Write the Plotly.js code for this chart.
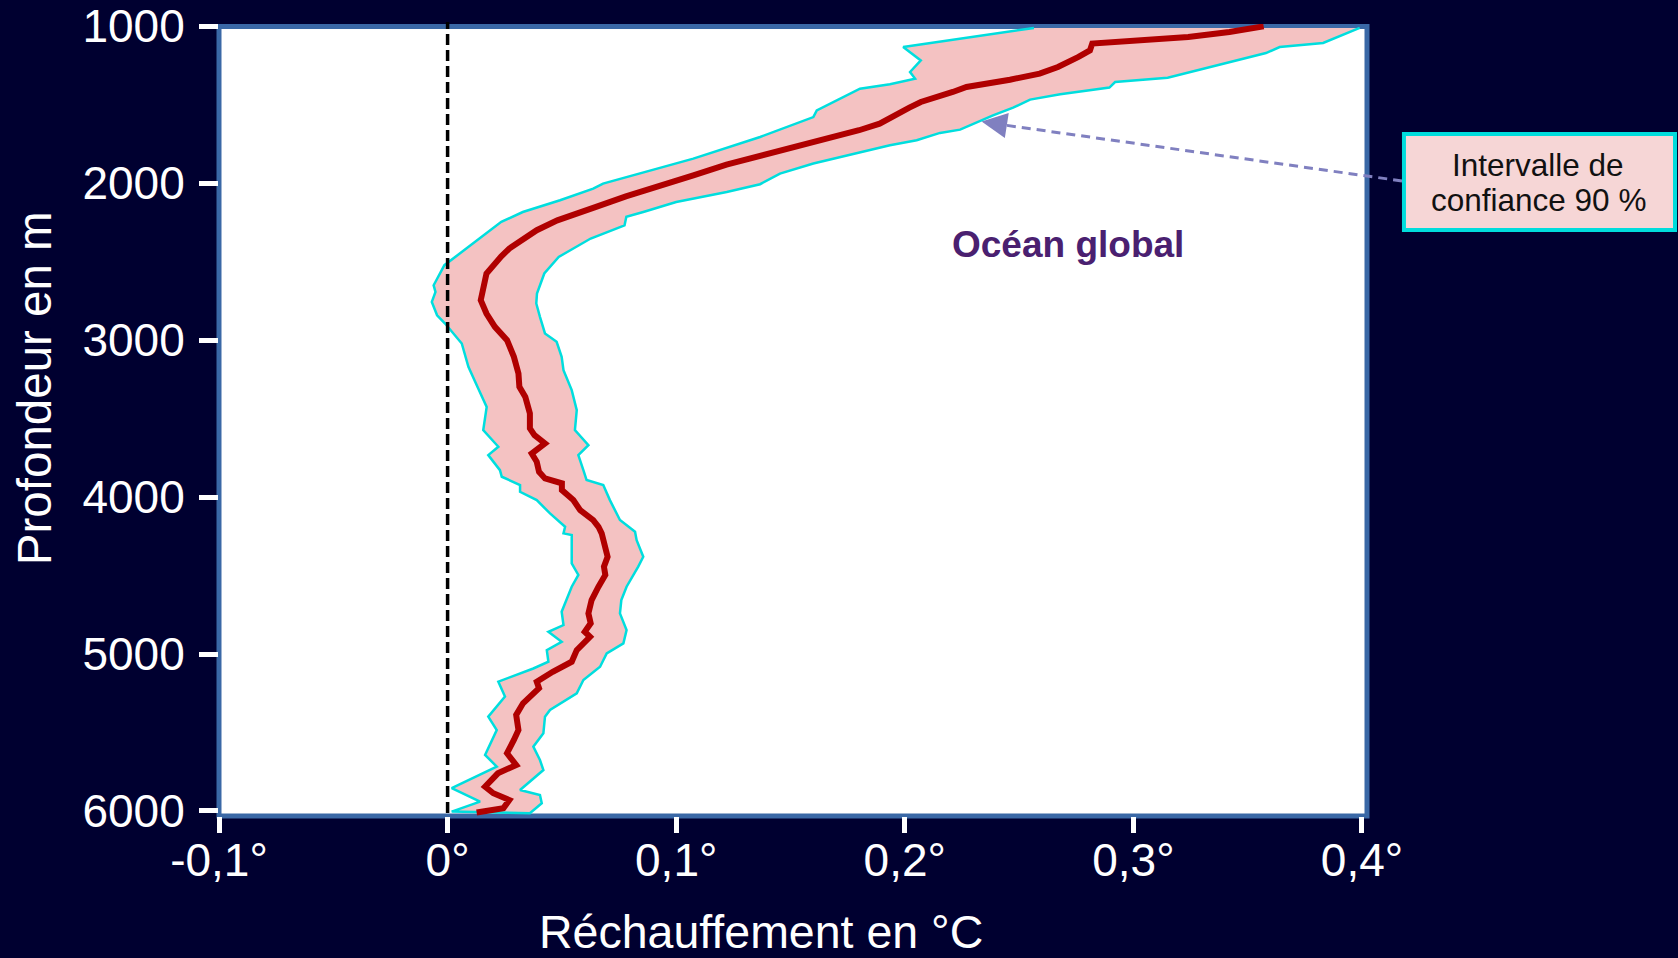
<!DOCTYPE html>
<html>
<head>
<meta charset="utf-8">
<script src="https://cdn.plot.ly/plotly-3.0.1.min.js"></script>
<style>
  html, body { margin: 0; padding: 0; background: #000030; }
  #chart { width: 1678px; height: 958px; }
</style>
</head>
<body>
<div id="chart"></div>
<script>
// ---- Data ----
// Mean warming profile (°C) vs depth (m)
const meanDepth = [1000,1036,1068,1085,1110,1153,1195,1259,1301,1340,1386,1418,1482,1518,1620,1662,1715,1764,1853,1881,1949,2013,2083,2155,2236,2299,2416,2465,2575,2745,2830,2915,3000,3106,3212,3297,3361,3467,3562,3605,3658,3722,3775,3839,3881,3912,3955,4019,4083,4146,4189,4231,4316,4380,4443,4496,4571,4656,4741,4804,4858,4890,4975,5049,5113,5176,5218,5314,5388,5484,5547,5632,5707,5760,5845,5887,5930,5983,6010];
const meanWarming = [0.357,0.342,0.324,0.306,0.282,0.281,0.276,0.267,0.259,0.246,0.227,0.221,0.207,0.202,0.189,0.180,0.166,0.151,0.128,0.122,0.1075,0.093,0.078,0.064,0.048,0.039,0.027,0.0235,0.017,0.0145,0.017,0.0207,0.026,0.029,0.031,0.0314,0.034,0.036,0.036,0.038,0.0426,0.0368,0.039,0.040,0.0426,0.050,0.050,0.055,0.058,0.0637,0.066,0.0674,0.069,0.070,0.0684,0.069,0.066,0.063,0.0616,0.0626,0.060,0.0623,0.0565,0.0543,0.046,0.039,0.040,0.033,0.030,0.031,0.029,0.026,0.030,0.022,0.0164,0.020,0.027,0.0244,0.0127];

// Upper bound of the 90 % confidence interval
const upperDepth = [1010,1106,1132,1170,1327,1355,1390,1420,1433,1467,1518,1567,1658,1679,1726,1758,1821,1874,1938,1970,2006,2055,2119,2183,2214,2268,2352,2469,2575,2703,2766,2851,2957,3010,3106,3191,3318,3446,3573,3669,3732,3828,3891,3923,4019,4146,4221,4274,4380,4443,4571,4656,4741,4847,4932,4996,5081,5165,5250,5356,5399,5505,5590,5675,5739,5866,5898,5951,6014];
const upperWarming = [0.399,0.383,0.364,0.358,0.315,0.292,0.2895,0.274,0.268,0.2548,0.2474,0.2386,0.2242,0.2154,0.2052,0.1935,0.176,0.160,0.1454,0.141,0.1367,0.1221,0.100,0.0856,0.0782,0.0774,0.0626,0.0486,0.0423,0.0391,0.0388,0.0404,0.0426,0.0477,0.0499,0.0507,0.0543,0.0565,0.0557,0.0616,0.0572,0.0594,0.0608,0.0681,0.071,0.0754,0.082,0.0827,0.0856,0.0834,0.0783,0.076,0.0754,0.0783,0.0769,0.0696,0.0667,0.0594,0.0565,0.0448,0.0426,0.0419,0.0375,0.0404,0.0419,0.0317,0.0404,0.0412,0.036];

// Lower bound of the 90 % confidence interval
const lowerDepth = [1010,1132,1217,1291,1333,1369,1397,1535,1578,1705,1843,2002,2034,2108,2183,2246,2384,2522,2650,2692,2756,2841,2894,3021,3170,3308,3425,3573,3679,3732,3828,3870,3923,3966,4019,4104,4189,4231,4242,4422,4496,4571,4730,4815,4858,4922,4975,5049,5092,5176,5271,5399,5484,5643,5717,5855,5940,6004];
const lowerWarming = [0.2565,0.1993,0.207,0.2023,0.2045,0.1935,0.1804,0.1615,0.160,0.1367,0.1075,0.068,0.0637,0.0492,0.0329,0.0235,0.0111,-0.0014,-0.0061,-0.0053,-0.0069,-0.0046,-0.0011,0.0062,0.0091,0.0134,0.0171,0.0156,0.0222,0.0178,0.0229,0.0237,0.0317,0.0317,0.039,0.0448,0.0514,0.0507,0.0543,0.0543,0.0572,0.0543,0.0499,0.0507,0.0441,0.0499,0.0434,0.0441,0.0375,0.0222,0.0251,0.0178,0.0215,0.0164,0.0215,0.0018,0.0142,0.0018];

const depthTicks = [1000,2000,3000,4000,5000,6000];
const depthTickLabels = ['1000','2000','3000','4000','5000','6000'];
const warmTicks = [-0.1,0,0.1,0.2,0.3,0.4];
const warmTickLabels = ['-0,1°','0°','0,1°','0,2°','0,3°','0,4°'];

// ---- Build confidence band polygon ----
const bandX = upperWarming.concat(lowerWarming.slice().reverse());
const bandY = upperDepth.concat(lowerDepth.slice().reverse());

const FONT = 'Liberation Sans, Arial, Helvetica, sans-serif';

const traces = [
  {
    type: 'scatter', mode: 'lines',
    x: bandX, y: bandY,
    fill: 'toself', fillcolor: '#f4c2c2',
    line: { color: '#00dede', width: 2.5 },
    hoverinfo: 'skip', name: 'Intervalle de confiance 90 %'
  },
  {
    type: 'scatter', mode: 'lines',
    x: meanWarming, y: meanDepth,
    line: { color: '#b00000', width: 6 },
    name: 'Océan global'
  }
];

const layout = {
  width: 1678, height: 958,
  paper_bgcolor: '#000030',
  plot_bgcolor: '#ffffff',
  showlegend: false,
  margin: { l: 219, r: 311, t: 24, b: 142, pad: 0 },
  font: { family: FONT, color: '#ffffff' },
  xaxis: {
    range: [-0.1, 0.4022],
    tickvals: warmTicks, ticktext: warmTickLabels,
    ticks: 'outside', ticklen: 16, tickwidth: 5, tickcolor: '#ffffff',
    tickfont: { family: FONT, size: 46, color: '#ffffff' },
    ticklabelstandoff: -12,
    showgrid: false, zeroline: false, showline: false,
    fixedrange: true
  },
  yaxis: {
    range: [6032, 985],
    tickvals: depthTicks, ticktext: depthTickLabels,
    ticks: 'outside', ticklen: 19, tickwidth: 5, tickcolor: '#ffffff',
    tickfont: { family: FONT, size: 46, color: '#ffffff' },
    ticklabelstandoff: 5,
    showgrid: false, zeroline: false, showline: false,
    fixedrange: true
  },
  shapes: [
    // plot frame
    { type: 'rect', xref: 'paper', yref: 'paper', x0: 0, x1: 1, y0: 0, y1: 0.99685,
      line: { color: '#3a68a6', width: 5 }, fillcolor: 'rgba(0,0,0,0)', layer: 'below' },
    // zero reference line
    { type: 'line', xref: 'x', yref: 'paper', x0: 0, x1: 0, y0: 0.0038, y1: 1.0025,
      line: { color: '#000000', width: 3.5, dash: '11px,5px' } },
    // dashed pointer line
    { type: 'line', xref: 'paper', yref: 'paper', x0: 1.0305, y0: 0.8018, x1: 0.6838, y1: 0.8725,
      line: { color: '#8080c0', width: 3, dash: '9px,6px' } },
    // callout box
    { type: 'rect', xref: 'paper', yref: 'paper', x0: 1.0322, x1: 1.2683, y0: 0.7399, y1: 0.8611,
      fillcolor: '#f6d6d6', line: { color: '#00dcdc', width: 4 } }
  ],
  annotations: [
    { xref: 'paper', yref: 'paper', x: -0.1607, y: 0.5396, textangle: -90,
      xanchor: 'center', yanchor: 'middle', showarrow: false,
      text: 'Profondeur en m', font: { family: FONT, size: 47.5, color: '#ffffff' } },
    { xref: 'paper', yref: 'paper', x: 0.4721, y: -0.1465,
      xanchor: 'center', yanchor: 'middle', showarrow: false,
      text: 'Réchauffement en °C', font: { family: FONT, size: 46.5, color: '#ffffff' } },
    { xref: 'paper', yref: 'paper', x: 0.7395, y: 0.7222,
      xanchor: 'center', yanchor: 'middle', showarrow: false,
      text: '<b>Océan global</b>', font: { family: FONT, size: 37, color: '#4a2070' } },
    { xref: 'paper', yref: 'paper', x: 1.149, y: 0.822,
      xanchor: 'center', yanchor: 'middle', showarrow: false,
      text: 'Intervalle de', font: { family: FONT, size: 31.5, color: '#111111' } },
    { xref: 'paper', yref: 'paper', x: 1.149, y: 0.7778,
      xanchor: 'center', yanchor: 'middle', showarrow: false,
      text: 'confiance 90 %', font: { family: FONT, size: 31.5, color: '#111111' } },
    { xref: 'x', yref: 'y', x: 0.2336, y: 1607, ax: 26, ay: 4, axref: 'pixel', ayref: 'pixel',
      text: '', showarrow: true, arrowhead: 2, arrowsize: 1.7, arrowwidth: 3, arrowcolor: '#8080c0' }
  ]
};

Plotly.newPlot('chart', traces, layout, { displayModeBar: false, responsive: false });
</script>
</body>
</html>
